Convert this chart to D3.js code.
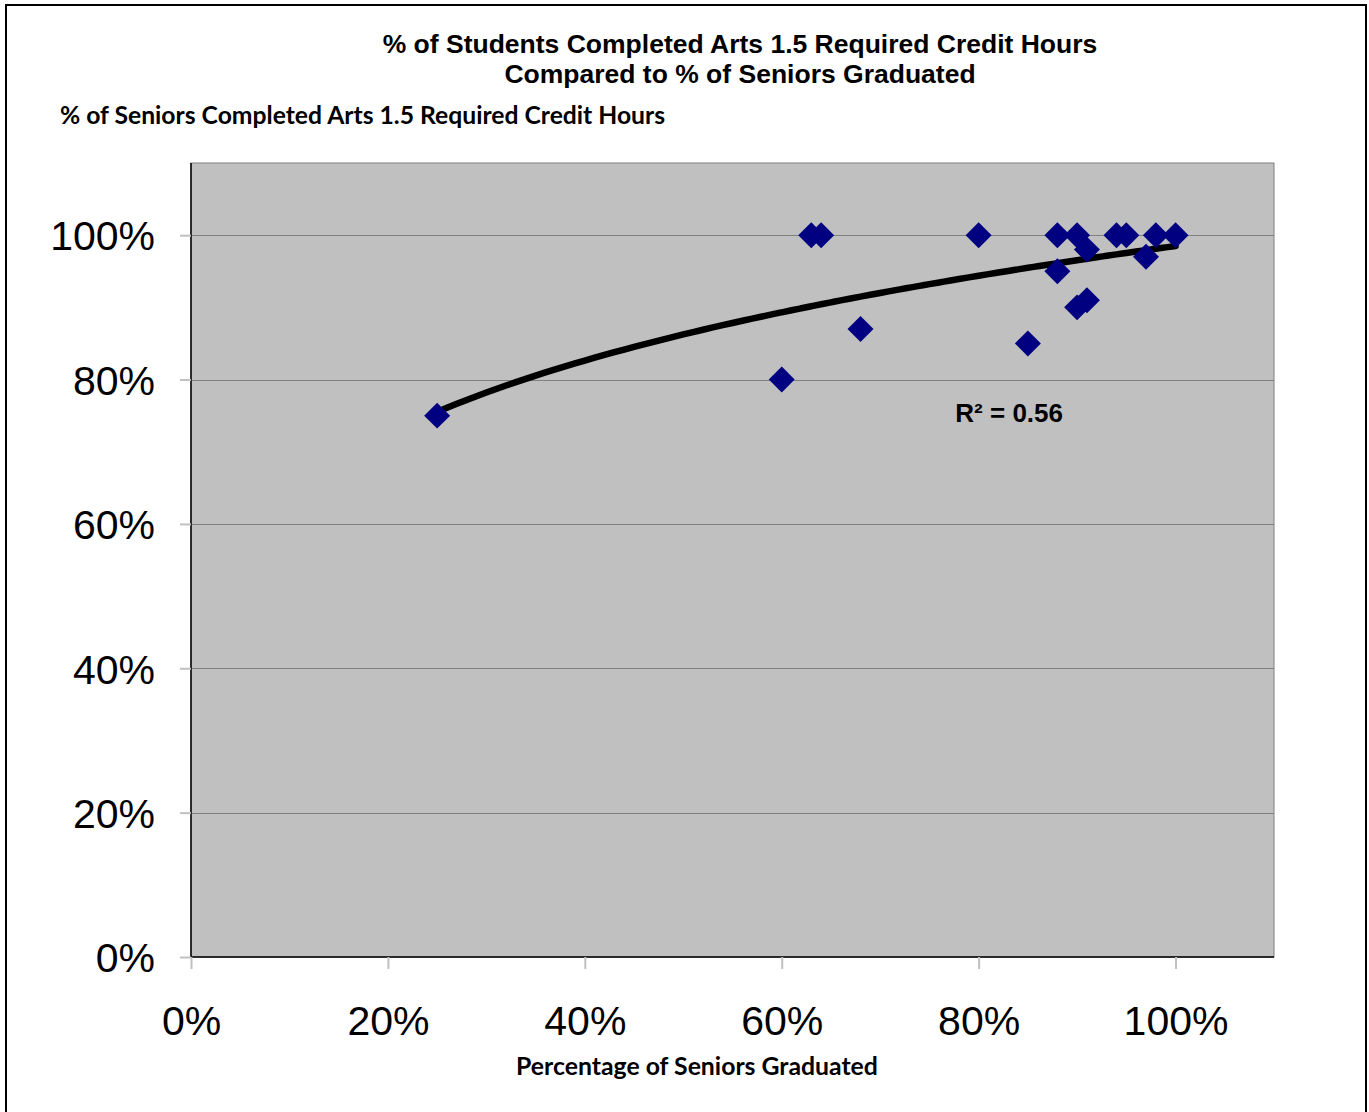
<!DOCTYPE html>
<html>
<head>
<meta charset="utf-8">
<script src="https://cdn.jsdelivr.net/npm/d3@7"></script>
<style>
  body { margin: 0; background: #fff; }
  text { font-family: "Liberation Sans", Arial, sans-serif; }
  .calibri { font-family: Lato, "Open Sans", sans-serif; font-weight: bold; }
</style>
</head>
<body>
<div id="chart"></div>
<script>
// share of seniors graduated (x) vs share completing arts credit hours (y)
const graduated = [0.25, 0.60, 0.63, 0.64, 0.68, 0.80, 0.85, 0.88, 0.88, 0.90, 0.90, 0.91, 0.91, 0.94, 0.95, 0.97, 0.98, 1.00]
const completed = [0.75, 0.80, 1.00, 1.00, 0.87, 1.00, 0.85, 1.00, 0.95, 1.00, 0.90, 0.98, 0.91, 1.00, 1.00, 0.97, 1.00, 1.00]
const xTicks = [0, 0.2, 0.4, 0.6, 0.8, 1.0]
const yTicks = [0, 0.2, 0.4, 0.6, 0.8, 1.0]
const rSquaredLabel = 'R² = 0.56'

const W = 1369
const H = 1112
const margin = { top: 163, right: 95, bottom: 155, left: 191 }
const width = W - margin.left - margin.right
const height = H - margin.top - margin.bottom

const svg = d3
  .select('#chart')
  .append('svg')
  .attr('width', W)
  .attr('height', H)

// outer chart frame
svg
  .append('rect')
  .attr('x', 6)
  .attr('y', 5)
  .attr('width', 1360)
  .attr('height', 1130)
  .attr('fill', '#fff')
  .attr('stroke', '#000')
  .attr('stroke-width', 2)

const g = svg
  .append('g')
  .attr('transform', 'translate(' + margin.left + ',' + margin.top + ')')

const x = d3.scaleLinear().domain([0, 1.1]).range([0, width])
const y = d3.scaleLinear().domain([0, 1.1]).range([height, 0])

// plot area
g.append('rect')
  .attr('width', width)
  .attr('height', height)
  .attr('fill', '#c0c0c0')
  .attr('stroke', '#808080')
  .attr('stroke-width', 1)

// gridlines
g.append('g')
  .selectAll('line')
  .data(yTicks.filter(d => d > 0))
  .enter()
  .append('line')
  .attr('x1', 0)
  .attr('x2', width)
  .attr('y1', d => Math.round(y(d)) + 0.5)
  .attr('y2', d => Math.round(y(d)) + 0.5)
  .attr('stroke', '#808080')
  .attr('stroke-width', 1)

// axes
const xAxis = d3.axisBottom(x).tickValues(xTicks).tickSize(12).tickFormat(d3.format('.0%'))
const yAxis = d3.axisLeft(y).tickValues(yTicks).tickSize(11).tickFormat(d3.format('.0%'))

const gx = g.append('g').attr('transform', 'translate(0,' + height + ')').call(xAxis)
gx.select('.domain').attr('stroke', '#000').attr('stroke-width', 1.5).attr('d', 'M0,0H' + width)
gx.selectAll('.tick line').attr('stroke', '#c0c0c0').attr('stroke-width', 2)
gx.selectAll('.tick text')
  .attr('y', 78)
  .attr('dy', 0)
  .attr('font-size', 41)
  .attr('font-family', '"Liberation Sans", Arial, sans-serif')
  .attr('fill', '#000')

const gy = g.append('g').call(yAxis)
gy.select('.domain').attr('stroke', '#000').attr('stroke-width', 1.5).attr('d', 'M0,0V' + height)
gy.selectAll('.tick line').attr('stroke', '#c0c0c0').attr('stroke-width', 2)
gy.selectAll('.tick text')
  .attr('x', -36)
  .attr('dy', '0.36em')
  .attr('font-size', 41)
  .attr('font-family', '"Liberation Sans", Arial, sans-serif')
  .attr('fill', '#000')

// power trendline fitted on the data (y = c * x^k)
const lx = graduated.map(Math.log)
const ly = completed.map(Math.log)
const mx = d3.mean(lx)
const my = d3.mean(ly)
const k = d3.sum(lx, (v, i) => (v - mx) * (ly[i] - my)) / d3.sum(lx, v => (v - mx) * (v - mx))
const c = Math.exp(my - k * mx)

const trendX = d3.range(d3.min(graduated), d3.max(graduated) + 0.0001, 0.01)
const line = d3
  .line()
  .x(d => x(d))
  .y(d => y(c * Math.pow(d, k)))
  .curve(d3.curveBasis)

g.append('path')
  .datum(trendX)
  .attr('d', line)
  .attr('fill', 'none')
  .attr('stroke', '#000')
  .attr('stroke-width', 6.5)
  .attr('stroke-linecap', 'round')

// markers
g.append('g')
  .selectAll('path')
  .data(graduated.map((d, i) => [d, completed[i]]))
  .enter()
  .append('path')
  .attr('d', d3.symbol().type(d3.symbolDiamond2).size(430))
  .attr('transform', d => 'translate(' + x(d[0]) + ',' + y(d[1]) + ')')
  .attr('fill', '#000080')

// R squared label
g.append('text')
  .attr('x', x(0.831))
  .attr('y', y(0.75) + 6)
  .attr('text-anchor', 'middle')
  .attr('font-size', 26)
  .attr('font-weight', 'bold')
  .text(rSquaredLabel)

// titles
svg.append('text')
  .attr('x', 740)
  .attr('y', 53)
  .attr('text-anchor', 'middle')
  .attr('font-size', 26.5)
  .attr('font-weight', 'bold')
  .text('% of Students Completed Arts 1.5 Required Credit Hours')

svg.append('text')
  .attr('x', 740)
  .attr('y', 83)
  .attr('text-anchor', 'middle')
  .attr('font-size', 26.5)
  .attr('font-weight', 'bold')
  .text('Compared to % of Seniors Graduated')

svg.append('text')
  .attr('class', 'calibri')
  .attr('x', 60)
  .attr('y', 124)
  .attr('font-size', 24.7)
  .text('% of Seniors Completed Arts 1.5 Required Credit Hours')

svg.append('text')
  .attr('class', 'calibri')
  .attr('x', 697)
  .attr('y', 1075)
  .attr('text-anchor', 'middle')
  .attr('font-size', 24.8)
  .text('Percentage of Seniors Graduated')
</script>
</body>
</html>
